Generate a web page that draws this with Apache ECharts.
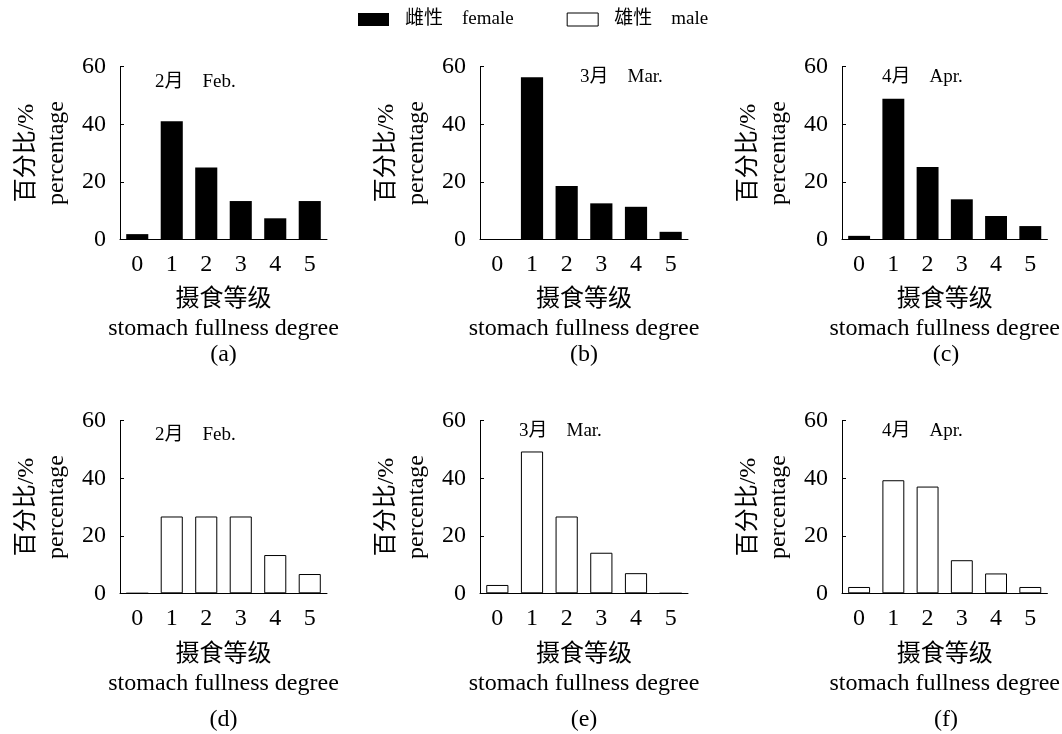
<!DOCTYPE html>
<html>
<head>
<meta charset="utf-8">
<script src="https://cdn.jsdelivr.net/npm/echarts@6/dist/echarts.min.js"></script>
<style>
html,body{margin:0;padding:0;background:#fff;}
#chart{width:1062px;height:734px;}
</style>
</head>
<body>
<div id="chart"></div>
<script>
const categories = ['0', '1', '2', '3', '4', '5'];
const femaleFeb = [1.8, 41.0, 25.0, 13.3, 7.3, 13.3];
const femaleMar = [0, 56.3, 18.5, 12.5, 11.3, 2.6];
const femaleApr = [1.2, 48.9, 25.1, 13.9, 8.1, 4.6];
const maleFeb = [0, 26.7, 26.7, 26.7, 13.3, 6.7];
const maleMar = [2.9, 49.3, 26.7, 14.1, 7.0, 0];
const maleApr = [2.2, 39.3, 37.1, 11.5, 6.9, 2.2];
const yMin = 0, yMax = 60, yInterval = 20;
const femaleName = '雌性\u3000female';
const maleName = '雄性\u3000male';
const monthLabels = ['2月\u3000Feb.', '3月\u3000Mar.', '4月\u3000Apr.'];
const panelLabels = ['(a)', '(b)', '(c)', '(d)', '(e)', '(f)'];
const yName = '百分比/%\npercentage';
const xName = '摄食等级\nstomach fullness degree';

const FONT = "'Liberation Serif', 'Times New Roman', 'Noto Sans CJK SC', serif";

const panels = [
  {grid: {left: 120, top: 66.7, width: 207, height: 172.6}, data: femaleFeb, name: femaleName, month: 0, mx: 155, my: 82.5, px: 223.5, py: 355, gap: 46},
  {grid: {left: 480, top: 66.7, width: 208, height: 172.6}, data: femaleMar, name: femaleName, month: 1, mx: 580, my: 78, px: 584, py: 355, gap: 46},
  {grid: {left: 842, top: 66.7, width: 208, height: 172.6}, data: femaleApr, name: femaleName, month: 2, mx: 882, my: 78, px: 946, py: 355, gap: 46},
  {grid: {left: 120, top: 420.7, width: 207, height: 172.6}, data: maleFeb, name: maleName, month: 0, mx: 155, my: 435.5, px: 223.5, py: 720, gap: 47},
  {grid: {left: 480, top: 420.7, width: 208, height: 172.6}, data: maleMar, name: maleName, month: 1, mx: 519, my: 432, px: 584, py: 720, gap: 47},
  {grid: {left: 842, top: 420.7, width: 208, height: 172.6}, data: maleApr, name: maleName, month: 2, mx: 882, my: 432, px: 946, py: 720, gap: 47}
];

const grids = [], xAxes = [], yAxes = [], series = [], graphics = [];
panels.forEach((p, i) => {
  grids.push(Object.assign({containLabel: false}, p.grid));
  xAxes.push({
    type: 'category', gridIndex: i, data: categories,
    boundaryGap: true,
    axisLine: {lineStyle: {color: '#000', width: 1}},
    axisTick: {inside: true, length: 4, alignWithLabel: false, lineStyle: {color: '#000'}},
    axisLabel: {color: '#000', fontFamily: FONT, fontSize: 24, margin: 13},
    name: xName, nameLocation: 'middle', nameGap: p.gap,
    nameTextStyle: {color: '#000', fontFamily: FONT, fontSize: 24, lineHeight: 29}
  });
  yAxes.push({
    type: 'value', gridIndex: i, min: yMin, max: yMax, interval: yInterval,
    splitLine: {show: false},
    axisLine: {show: true, lineStyle: {color: '#000', width: 1}},
    axisTick: {show: true, inside: true, length: 4, lineStyle: {color: '#000'}},
    axisLabel: {color: '#000', fontFamily: FONT, fontSize: 24, margin: 14},
    name: yName, nameLocation: 'middle', nameRotate: 90, nameGap: 48,
    nameTextStyle: {color: '#000', fontFamily: FONT, fontSize: 24, lineHeight: 30}
  });
  const isMale = p.name === maleName;
  series.push({
    type: 'bar', name: p.name, xAxisIndex: i, yAxisIndex: i, data: p.data,
    barWidth: '64%',
    itemStyle: isMale ? {color: '#fff', borderColor: '#000', borderWidth: 1} : {color: '#000'},
    emphasis: {disabled: true},
    silent: true
  });
  graphics.push({
    type: 'text', left: p.mx, top: p.my - 10,
    style: {text: monthLabels[p.month], fill: '#000', font: "19px " + FONT}
  });
  graphics.push({
    type: 'text', x: p.px, y: p.py,
    style: {text: panelLabels[i], fill: '#000', font: "24px " + FONT, textAlign: 'center', textVerticalAlign: 'middle'}
  });
});

const chart = echarts.init(document.getElementById('chart'), null, {renderer: 'canvas'});
chart.setOption({
  animation: false,
  backgroundColor: '#fff',
  legend: {
    left: 358, top: 10, padding: 0,
    itemWidth: 31, itemHeight: 13, itemGap: 53,
    data: [
      {name: femaleName, icon: 'rect', itemStyle: {color: '#000', borderWidth: 0}},
      {name: maleName, icon: 'rect', itemStyle: {color: '#fff', borderColor: '#000', borderWidth: 1}}
    ],
    textStyle: {color: '#000', fontFamily: FONT, fontSize: 19, padding: [0, 0, 0, 11]},
    selectedMode: false
  },
  grid: grids,
  xAxis: xAxes,
  yAxis: yAxes,
  series: series,
  graphic: graphics
});
</script>
</body>
</html>
